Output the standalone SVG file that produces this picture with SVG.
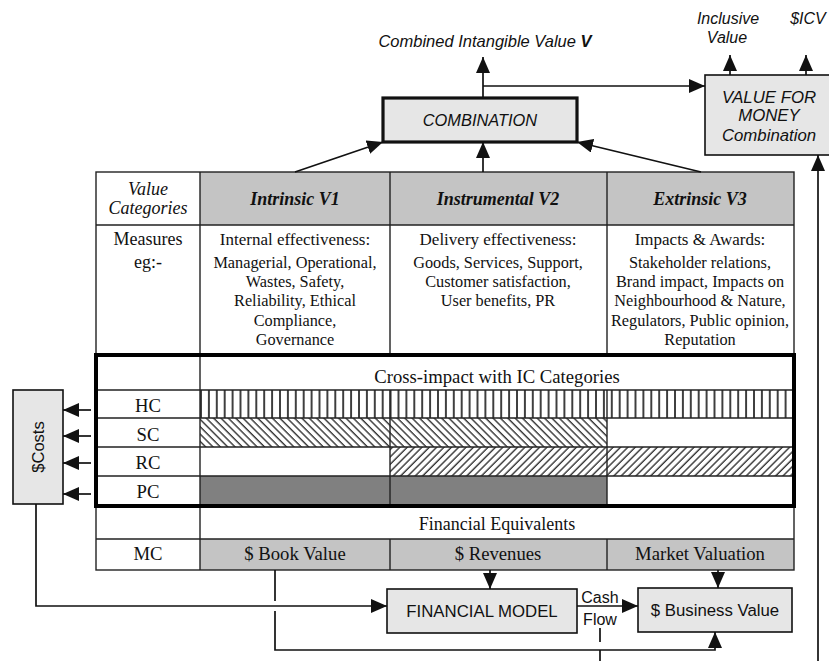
<svg xmlns="http://www.w3.org/2000/svg" width="829" height="661" viewBox="0 0 829 661">
  <style>
    .sans { font-family: "Liberation Sans", Arial, sans-serif; fill: #111; }
    .serif { font-family: "Liberation Serif", "Times New Roman", serif; fill: #111; }
    .it { font-style: italic; }
    .c { text-anchor: middle; }
    .main { font-size: 17px; }
    .lead { font-size: 18px; }
    .big { font-size: 18.7px; }
    .sub { font-size: 16.3px; }
    .hdr { font-size: 18px; font-weight: bold; font-style: italic; }
    .box { fill: #e6e6e6; stroke: #111; stroke-width: 1.6; }
    .thick { fill: #e6e6e6; stroke: #111; stroke-width: 3.2; }
    .grid { fill: none; stroke: #222; stroke-width: 1.4; }
    .conn { fill: none; stroke: #111; stroke-width: 1.7; }
  </style>
  <defs>
    <marker id="arr" viewBox="0 0 16 14" refX="16" refY="7" markerWidth="16" markerHeight="14" markerUnits="userSpaceOnUse" orient="auto">
      <path d="M0,0 L16,7 L0,14 Z" fill="#111"/>
    </marker>
    <pattern id="vstripe" patternUnits="userSpaceOnUse" width="7.9" height="10" x="200">
      <rect width="7.9" height="10" fill="#fff"/>
      <line x1="1" y1="0" x2="1" y2="10" stroke="#111" stroke-width="1.6"/>
    </pattern>
    <pattern id="back" patternUnits="userSpaceOnUse" width="5.2" height="10" patternTransform="rotate(-45)">
      <rect width="5.2" height="10" fill="#fff"/>
      <line x1="1" y1="0" x2="1" y2="10" stroke="#111" stroke-width="1.2"/>
    </pattern>
    <pattern id="fwd" patternUnits="userSpaceOnUse" width="5.2" height="10" patternTransform="rotate(45)">
      <rect width="5.2" height="10" fill="#fff"/>
      <line x1="1" y1="0" x2="1" y2="10" stroke="#111" stroke-width="1.2"/>
    </pattern>
  </defs>

  <!-- Value table -->
  <g id="value-table">
    <rect x="96" y="172" width="698" height="398" fill="#fff"/>
    <rect x="200" y="172" width="594" height="53" fill="#c4c4c4"/>
    <rect x="200" y="539" width="594" height="31" fill="#c4c4c4"/>
    <!-- IC category rows -->
    <rect x="200" y="390" width="594" height="28" fill="url(#vstripe)"/>
    <rect x="200" y="418" width="407" height="29" fill="url(#back)"/>
    <rect x="390" y="447" width="404" height="29" fill="url(#fwd)"/>
    <rect x="200" y="476" width="407" height="29" fill="#808080"/>
    <!-- grid lines -->
    <rect class="grid" x="96" y="172" width="698" height="398"/>
    <path class="grid" d="M96,225 H794 M96,390 H794 M96,418 H794 M96,447 H794 M96,476 H794 M96,539 H794
      M200,172 V570 M390,172 V355 M607,172 V355 M390,390 V505 M607,390 V505 M390,539 V570 M607,539 V570"/>
    <rect x="96" y="355" width="698" height="151" fill="none" stroke="#000" stroke-width="4"/>

    <text class="serif it c lead" x="148" y="195">Value</text>
    <text class="serif it c lead" x="148" y="214">Categories</text>
    <text class="serif hdr c" x="295" y="205">Intrinsic V1</text>
    <text class="serif hdr c" x="498" y="205">Instrumental V2</text>
    <text class="serif hdr c" x="700" y="205">Extrinsic V3</text>

    <text class="serif c lead" x="148" y="245">Measures</text>
    <text class="serif c lead" x="148" y="268">eg:-</text>

    <text class="serif c main" x="295" y="245">Internal effectiveness:</text>
    <text class="serif c sub" x="295" y="268">Managerial, Operational,</text>
    <text class="serif c sub" x="295" y="287">Wastes, Safety,</text>
    <text class="serif c sub" x="295" y="306">Reliability, Ethical</text>
    <text class="serif c sub" x="295" y="326">Compliance,</text>
    <text class="serif c sub" x="295" y="345">Governance</text>

    <text class="serif c main" x="498" y="245">Delivery effectiveness:</text>
    <text class="serif c sub" x="498" y="268">Goods, Services, Support,</text>
    <text class="serif c sub" x="498" y="287">Customer satisfaction,</text>
    <text class="serif c sub" x="498" y="306">User benefits, PR</text>

    <text class="serif c main" x="700" y="245">Impacts &amp; Awards:</text>
    <text class="serif c sub" x="700" y="268">Stakeholder relations,</text>
    <text class="serif c sub" x="700" y="287">Brand impact, Impacts on</text>
    <text class="serif c sub" x="700" y="306">Neighbourhood &amp; Nature,</text>
    <text class="serif c sub" x="700" y="326">Regulators, Public opinion,</text>
    <text class="serif c sub" x="700" y="345">Reputation</text>

    <text class="serif c big" x="497" y="383">Cross-impact with IC Categories</text>
    <text class="serif c big" x="148" y="412">HC</text>
    <text class="serif c big" x="148" y="441">SC</text>
    <text class="serif c big" x="148" y="469">RC</text>
    <text class="serif c big" x="148" y="498">PC</text>

    <text class="serif c lead" x="497" y="530">Financial Equivalents</text>
    <text class="serif c big" x="148" y="560">MC</text>
    <text class="serif c big" x="295" y="560">$ Book Value</text>
    <text class="serif c big" x="498" y="560">$ Revenues</text>
    <text class="serif c big" x="700" y="560">Market Valuation</text>
  </g>

  <g id="combination">
    <rect class="thick" x="383" y="98" width="194" height="44"/>
    <text class="sans it c" x="480" y="126" font-size="16.4">COMBINATION</text>
  </g>

  <g id="value-for-money">
    <rect class="box" x="705" y="75" width="130" height="80"/>
    <text class="sans it c" x="769" y="103" font-size="16.8">VALUE FOR</text>
    <text class="sans it c" x="769" y="121" font-size="16.8">MONEY</text>
    <text class="sans it c" x="769" y="141" font-size="16.8">Combination</text>
  </g>

  <g id="costs">
    <rect class="box" x="13" y="390" width="50" height="114"/>
    <text class="sans c" transform="translate(44,447) rotate(-90)" font-size="16.5">$Costs</text>
  </g>

  <g id="financial-model">
    <rect class="box" x="387" y="589" width="190" height="44"/>
    <text class="sans c" x="482" y="617" font-size="16.8">FINANCIAL MODEL</text>
  </g>

  <g id="business-value">
    <rect class="box" x="638" y="588" width="154" height="44"/>
    <text class="sans c" x="715" y="616" font-size="16.8">$ Business Value</text>
  </g>

  <g id="labels">
    <text class="sans it c" x="485" y="47" font-size="16.5">Combined Intangible Value <tspan font-weight="bold">V</tspan></text>
    <text class="sans it c" x="728" y="24" font-size="16">Inclusive</text>
    <text class="sans it c" x="727" y="43" font-size="16">Value</text>
    <text class="sans it c" x="808" y="24" font-size="16">$ICV</text>
    <text class="sans c" x="600" y="603" font-size="16">Cash</text>
    <text class="sans c" x="600" y="625" font-size="16">Flow</text>
  </g>

  <g id="connectors">
    <path class="conn" d="M295,172 L383,142" marker-end="url(#arr)"/>
    <path class="conn" d="M483,172 L483,142" marker-end="url(#arr)"/>
    <path class="conn" d="M701,172 L577,142" marker-end="url(#arr)"/>
    <path class="conn" d="M483,98 L483,57" marker-end="url(#arr)"/>
    <path class="conn" d="M483,86 L705,86" marker-end="url(#arr)"/>
    <path class="conn" d="M730,75 L730,55" marker-end="url(#arr)"/>
    <path class="conn" d="M806,75 L806,55" marker-end="url(#arr)"/>
    <path class="conn" d="M818,661 L818,155" marker-end="url(#arr)"/>
    <path class="conn" d="M91,410 L63,410" marker-end="url(#arr)"/>
    <path class="conn" d="M91,436 L63,436" marker-end="url(#arr)"/>
    <path class="conn" d="M91,463 L63,463" marker-end="url(#arr)"/>
    <path class="conn" d="M91,494 L63,494" marker-end="url(#arr)"/>
    <path class="conn" d="M36,504 L36,606 L387,606" marker-end="url(#arr)"/>
    <path class="conn" d="M275,570 L275,601"/>
    <path class="conn" d="M275,611 L275,650 L715,650 L715,632" marker-end="url(#arr)"/>
    <path class="conn" d="M490,570 L490,589" marker-end="url(#arr)"/>
    <path class="conn" d="M718,570 L718,588" marker-end="url(#arr)"/>
    <path class="conn" d="M577,606 L638,606" marker-end="url(#arr)"/>
    <path class="conn" d="M600,628 L600,661" stroke-dasharray="14,8"/>
  </g>
</svg>
